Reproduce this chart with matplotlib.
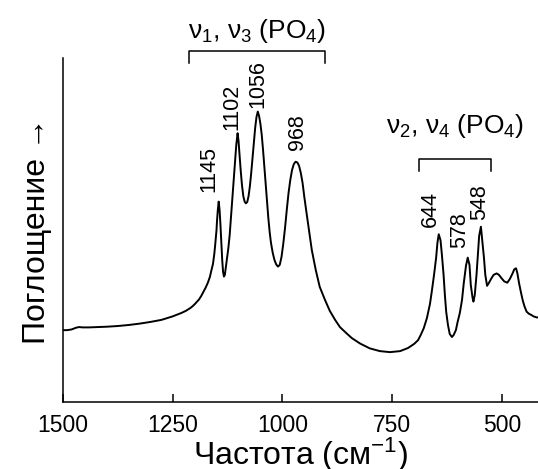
import matplotlib
matplotlib.use("Agg")
import matplotlib.pyplot as plt

plt.rcParams["font.family"] = ["Liberation Sans", "DejaVu Sans"]
plt.rcParams["mathtext.fontset"] = "custom"
plt.rcParams["mathtext.rm"] = "Liberation Sans"
plt.rcParams["mathtext.it"] = "Liberation Sans:italic"
plt.rcParams["mathtext.default"] = "regular"

# IR absorption spectrum (wavenumber, cm^-1 ; absorbance, arb. units)
wavenumber = [
    1500, 1490, 1480, 1470, 1463, 1455, 1440, 1420, 1400, 1375, 1350, 1325,
    1300, 1275, 1250, 1240, 1230, 1220, 1210, 1205, 1200, 1195, 1190, 1185,
    1180, 1175, 1170, 1165, 1162, 1158, 1155, 1153, 1150, 1149, 1147, 1145,
    1143, 1141, 1139, 1137, 1135, 1133, 1131, 1129, 1126, 1123, 1120, 1117,
    1114, 1111, 1108, 1105, 1102, 1100, 1098, 1095, 1092, 1089, 1086, 1083,
    1080, 1077, 1074, 1071, 1068, 1065, 1062, 1059, 1056, 1053, 1050, 1047,
    1044, 1041, 1038, 1035, 1032, 1029, 1026, 1022, 1018, 1014, 1010, 1006,
    1002, 998, 994, 990, 986, 982, 978, 974, 970, 966, 962, 958, 954, 950,
    945, 933, 924, 915, 903, 892, 880, 869, 855, 842, 823, 801, 778, 755,
    732, 714, 700, 691, 685, 678, 671, 664, 660, 655, 650, 647, 644, 640,
    637, 633, 630, 627, 623, 619, 614, 610, 605, 601, 596, 591, 587, 582,
    578, 574, 571, 567, 565, 562, 558, 555, 552, 548, 545, 541, 538, 534,
    530, 524, 519, 512, 507, 501, 495, 488, 482, 476, 472, 468, 465, 461,
    457, 453, 449, 444, 439, 433, 428, 421, 418,
]
absorbance = [
    0.209, 0.209, 0.211, 0.216, 0.218, 0.217, 0.217, 0.218, 0.219, 0.221, 0.224, 0.228,
    0.233, 0.239, 0.249, 0.254, 0.259, 0.265, 0.273, 0.278, 0.284, 0.291, 0.298, 0.308,
    0.320, 0.332, 0.346, 0.364, 0.381, 0.402, 0.431, 0.457, 0.500, 0.524, 0.559, 0.583,
    0.559, 0.515, 0.463, 0.413, 0.378, 0.365, 0.370, 0.390, 0.419, 0.448, 0.486, 0.538,
    0.594, 0.646, 0.698, 0.748, 0.782, 0.762, 0.727, 0.675, 0.631, 0.599, 0.583, 0.578,
    0.582, 0.599, 0.628, 0.666, 0.710, 0.754, 0.797, 0.829, 0.845, 0.832, 0.809, 0.777,
    0.733, 0.684, 0.631, 0.582, 0.535, 0.495, 0.463, 0.434, 0.413, 0.400, 0.394, 0.399,
    0.422, 0.460, 0.506, 0.559, 0.608, 0.646, 0.675, 0.692, 0.699, 0.697, 0.687, 0.666, 0.637, 0.596,
    0.550, 0.442, 0.384, 0.335, 0.297, 0.265, 0.239, 0.218, 0.201, 0.186, 0.170, 0.156, 0.148, 0.145,
    0.148, 0.157, 0.169, 0.180, 0.195, 0.215, 0.244, 0.285, 0.320, 0.367, 0.419, 0.463, 0.488, 0.471,
    0.431, 0.370, 0.311, 0.262, 0.224, 0.198, 0.189, 0.195, 0.209, 0.233, 0.259, 0.297, 0.346, 0.396,
    0.420, 0.399, 0.340, 0.303, 0.292, 0.311, 0.370, 0.428, 0.483, 0.510, 0.471, 0.419, 0.370, 0.338,
    0.346, 0.360, 0.370, 0.374, 0.370, 0.360, 0.351, 0.347, 0.358, 0.374, 0.386, 0.389, 0.375, 0.345,
    0.320, 0.297, 0.279, 0.263, 0.257, 0.253, 0.249, 0.246, 0.246,
]

# Peak labels: text, label x position, label base height
peak_labels = ["1145", "1102", "1056", "968", "644", "578", "548"]
peak_label_x = [1168, 1116, 1056, 965, 662, 596, 551]
peak_label_y = [0.611, 0.791, 0.855, 0.733, 0.509, 0.448, 0.530]

# Band group brackets
group_labels = [r"ν$_1$, ν$_3$ (PO$_4$)", r"ν$_2$, ν$_4$ (PO$_4$)"]
group_span = [(1213, 902), (688, 524)]
group_bracket_y = [1.022, 0.706]
group_text_y = [1.060, 0.783]

x_ticks = [1500, 1250, 1000, 750, 500]

fig = plt.figure(figsize=(5.38, 4.69), dpi=100)
ax = fig.add_axes([0.1167, 0.1429, 0.8833, 0.7328])

ax.plot(wavenumber, absorbance, color="black", lw=1.4,
        solid_joinstyle="round", solid_capstyle="round")

ax.set_xlim(1500, 418)
ax.set_ylim(0, 1)
ax.set_xticks(x_ticks)
ax.set_xticklabels([str(t) for t in x_ticks])
ax.set_yticks([])
ax.tick_params(axis="x", direction="in", length=6, width=1.1, pad=9,
               labelsize=16.5)
for side in ("top", "right"):
    ax.spines[side].set_visible(False)
for side in ("left", "bottom"):
    ax.spines[side].set_linewidth(1.1)

ax.set_xlabel("Частота (см$^{-1}$)", fontsize=23, labelpad=-1)
ax.set_ylabel("Поглощение →", fontsize=23, labelpad=8)

for txt, x, y in zip(peak_labels, peak_label_x, peak_label_y):
    ax.text(x, y, txt, rotation=90, ha="center", va="bottom", fontsize=15.5)

for txt, (x0, x1), yb, yt in zip(group_labels, group_span, group_bracket_y, group_text_y):
    ax.plot([x0, x0, x1, x1], [yb - 0.035, yb, yb, yb - 0.035], color="black",
            lw=1.1, clip_on=False)
    ax.text((x0 + x1) / 2, yt, txt, ha="center", va="baseline", fontsize=19,
            clip_on=False)

fig.savefig("out.png", dpi=100)
